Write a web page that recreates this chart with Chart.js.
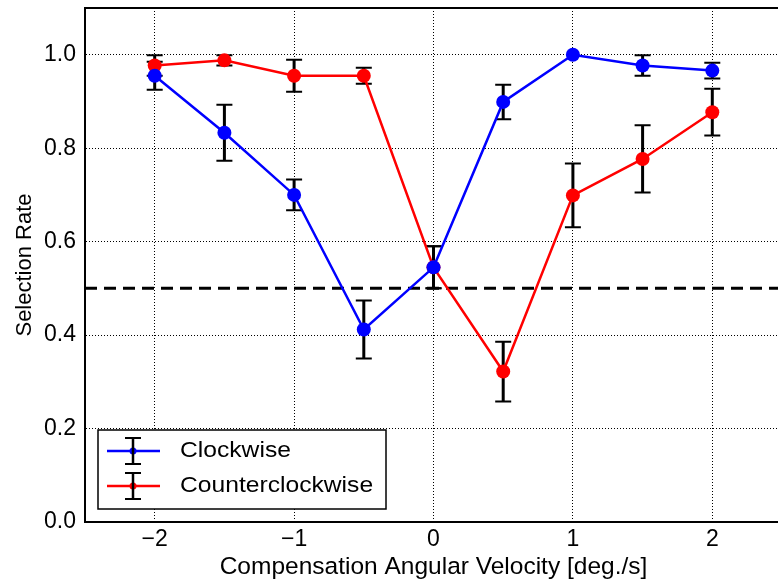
<!DOCTYPE html>
<html>
<head>
<meta charset="utf-8">
<script src="https://cdn.jsdelivr.net/npm/chart.js@4"></script>
<style>
  html, body { margin: 0; padding: 0; background: #fff; overflow: hidden; }
  #wrap { position: absolute; left: 0; top: 0; width: 789px; height: 582px; }
</style>
</head>
<body>
<div id="wrap"><canvas id="rateChart" width="789" height="582"></canvas></div>
<script>
// data
const velocities = [-2, -1.5, -1, -0.5, 0, 0.5, 1, 1.5, 2];
const cwRate  = [0.955, 0.833, 0.700, 0.412, 0.545, 0.899, 1.000, 0.977, 0.966];
const cwErr   = [0.030, 0.060, 0.033, 0.062, 0.045, 0.037, 0.000, 0.022, 0.017];
const ccwRate = [0.977, 0.988, 0.955, 0.955, 0.545, 0.322, 0.699, 0.777, 0.877];
const ccwErr  = [0.022, 0.011, 0.034, 0.017, 0.045, 0.064, 0.068, 0.072, 0.050];
const chanceLevel = 0.5;
const xTicks = [-2, -1, 0, 1, 2];
const yTicks = [0, 0.2, 0.4, 0.6, 0.8, 1.0];

const FONT = "'Liberation Sans', Arial, sans-serif";

function toPoints(ys, errs) {
  return velocities.map((v, i) => ({ x: v, y: ys[i], err: errs[i] }));
}

//#region plugins
// black error bars + dashed chance line, under the markers
const errorBars = {
  id: 'errorBars',
  beforeDatasetsDraw(chart) {
    const { ctx, chartArea, scales: { x, y } } = chart;
    ctx.save();
    // dashed line at 0.5
    ctx.strokeStyle = '#000';
    ctx.lineWidth = 3;
    ctx.setLineDash([12, 7]);
    ctx.beginPath();
    ctx.moveTo(chartArea.left, y.getPixelForValue(chanceLevel));
    ctx.lineTo(chartArea.right, y.getPixelForValue(chanceLevel));
    ctx.stroke();
    ctx.setLineDash([]);

    chart.data.datasets.forEach(ds => {
      ds.data.forEach(p => {
        if (!p.err) return;
        const px = x.getPixelForValue(p.x);
        const top = y.getPixelForValue(p.y + p.err);
        const bot = y.getPixelForValue(p.y - p.err);
        ctx.lineWidth = 3;
        ctx.beginPath();
        ctx.moveTo(px, top);
        ctx.lineTo(px, bot);
        ctx.stroke();
        ctx.lineWidth = 2;
        ctx.beginPath();
        ctx.moveTo(px - 8, top); ctx.lineTo(px + 8, top);
        ctx.moveTo(px - 8, bot); ctx.lineTo(px + 8, bot);
        ctx.stroke();
      });
    });
    ctx.restore();
  }
};

// top border of the frame and the boxed legend bottom-left
const frameAndLegend = {
  id: 'frameAndLegend',
  afterDraw(chart) {
    const { ctx, chartArea } = chart;
    ctx.save();
    ctx.strokeStyle = '#000';
    ctx.lineWidth = 2;
    ctx.beginPath();
    ctx.moveTo(chartArea.left - 1, chartArea.top);
    ctx.lineTo(chartArea.right, chartArea.top);
    ctx.stroke();

    // legend box
    const bx = 98, by = 430, bw = 288, bh = 79;
    ctx.fillStyle = '#fff';
    ctx.fillRect(bx, by, bw, bh);
    ctx.lineWidth = 1.5;
    ctx.strokeRect(bx, by, bw, bh);

    ctx.font = '22px ' + FONT;
    ctx.textBaseline = 'middle';
    chart.data.datasets.forEach((ds, i) => {
      const cy = 451 + i * 35;
      ctx.strokeStyle = ds.borderColor;
      ctx.lineWidth = 2.5;
      ctx.beginPath();
      ctx.moveTo(107, cy); ctx.lineTo(160, cy);
      ctx.stroke();
      ctx.fillStyle = ds.borderColor;
      ctx.beginPath();
      ctx.arc(133, cy, 3.5, 0, Math.PI * 2);
      ctx.fill();
      ctx.strokeStyle = '#000';
      ctx.lineWidth = 2.5;
      ctx.beginPath();
      ctx.moveTo(133, cy - 13); ctx.lineTo(133, cy + 13);
      ctx.stroke();
      ctx.lineWidth = 2;
      ctx.beginPath();
      ctx.moveTo(125, cy - 13); ctx.lineTo(141, cy - 13);
      ctx.moveTo(125, cy + 13); ctx.lineTo(141, cy + 13);
      ctx.stroke();
      // the source text is a little wider than Liberation Sans
      ctx.fillStyle = '#000';
      ctx.save();
      ctx.translate(180, cy);
      ctx.scale(1.12, 1);
      ctx.fillText(ds.label, 0, 0);
      ctx.restore();
    });
    ctx.restore();
  }
};
//#endregion

//#region chart
const ctx = document.getElementById('rateChart').getContext('2d');

new Chart(ctx, {
  type: 'line',
  data: {
    datasets: [
      {
        label: 'Clockwise',
        data: toPoints(cwRate, cwErr),
        borderColor: '#0000ff',
        backgroundColor: '#0000ff',
        borderWidth: 2.5,
        pointRadius: 7,
        pointBorderWidth: 0,
        pointBackgroundColor: '#0000ff',
        tension: 0
      },
      {
        label: 'Counterclockwise',
        data: toPoints(ccwRate, ccwErr),
        borderColor: '#ff0000',
        backgroundColor: '#ff0000',
        borderWidth: 2.5,
        pointRadius: 7,
        pointBorderWidth: 0,
        pointBackgroundColor: '#ff0000',
        tension: 0
      }
    ]
  },
  options: {
    responsive: false,
    animation: false,
    layout: { padding: { top: 8, right: 0, left: 0, bottom: 0 } },
    plugins: {
      legend: { display: false },
      tooltip: { enabled: false }
    },
    scales: {
      x: {
        type: 'linear',
        min: -2.5,
        max: 2.5,
        afterFit(scale) {
          scale.height = 60;
          scale.paddingLeft = 0;
          scale.paddingRight = 0;
        },
        afterBuildTicks(scale) { scale.ticks = xTicks.map(v => ({ value: v })); },
        ticks: {
          color: '#000',
          font: { family: FONT, size: 23 },
          padding: 4,
          callback: v => (v < 0 ? '\u2212' + Math.abs(v) : String(v))
        },
        grid: {
          color: '#000',
          lineWidth: 1,
          drawTicks: false
        },
        border: { display: true, color: '#000', width: 2, dash: [1, 2] },
        title: {
          display: true,
          text: 'Compensation Angular Velocity [deg./s]',
          color: '#000',
          font: { family: FONT, size: 24.5 },
          padding: { top: 0, bottom: 0 }
        }
      },
      y: {
        min: 0,
        max: 1.1,
        afterFit(scale) {
          scale.width = 85;
          scale.paddingTop = 0;
          scale.paddingBottom = 0;
        },
        afterBuildTicks(scale) { scale.ticks = yTicks.map(v => ({ value: v })); },
        ticks: {
          color: '#000',
          font: { family: FONT, size: 23 },
          padding: 9,
          callback: v => v.toFixed(1)
        },
        grid: {
          color: '#000',
          lineWidth: 1,
          drawTicks: false
        },
        border: { display: true, color: '#000', width: 2, dash: [1, 2] },
        title: {
          display: true,
          text: 'Selection Rate',
          color: '#000',
          font: { family: FONT, size: 22 },
          padding: { top: 12, bottom: 0 }
        }
      }
    }
  },
  plugins: [errorBars, frameAndLegend]
});
//#endregion
</script>
</body>
</html>
